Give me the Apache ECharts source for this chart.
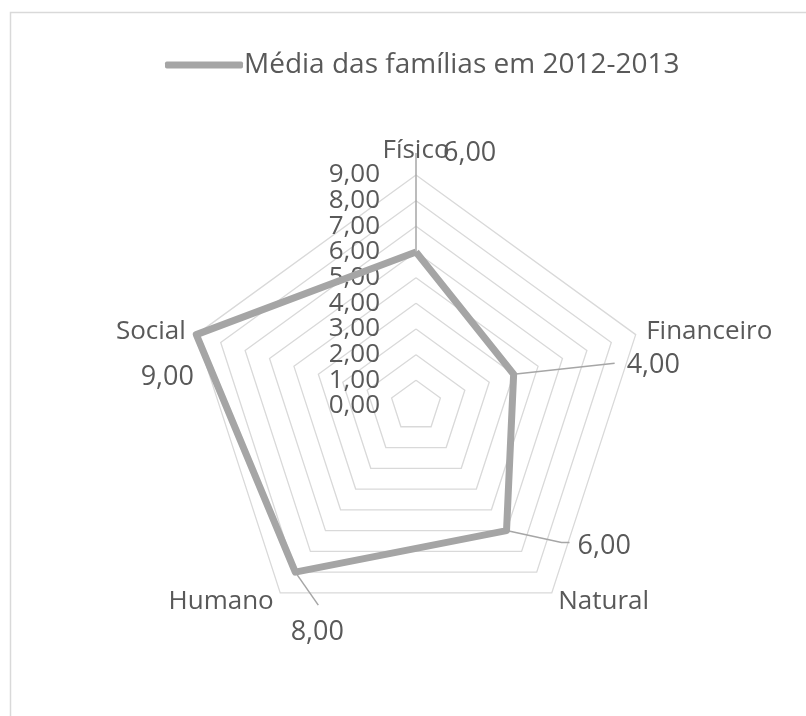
<!DOCTYPE html>
<html>
<head>
<meta charset="utf-8">
<script src="https://cdn.jsdelivr.net/npm/echarts@6/dist/echarts.min.js"></script>
<style>
html,body{margin:0;padding:0;background:#fff;}
#c{width:806px;height:716px;}
</style>
</head>
<body>
<div id="c"></div>
<script>
// ---- data ----
var seriesName = 'Média das famílias em 2012-2013';
var categories = ['Físico', 'Financeiro', 'Natural', 'Humano', 'Social'];
var values = [6, 4, 6, 8, 9];
var tickValues = [0, 1, 2, 3, 4, 5, 6, 7, 8, 9];
var axisMin = 0;
var axisMax = 9;
var axisSplit = 9;

// label placement relative to each vertex (dx, dy of text anchor, align) and leader lines
var labelPlace = [
  {dx: 27, dy: -99, align: 'left', leader: [[0, 0], [0, -99]]},
  {dx: 113, dy: -9, align: 'left', leader: [[0, 0], [101, -11]]},
  {dx: 71, dy: 16, align: 'left', leader: [[0, 0], [55, 12], [63, 12]]},
  {dx: 22, dy: 60, align: 'center', leader: [[0, 0], [23, 33]]},
  {dx: -29, dy: 43, align: 'center', leader: null}
];
var tickLabelMargin = 36;

var FONT = '"Open Sans", "Noto Sans", sans-serif';
var TXT = '#595959';
function fmt(v) { return Number(v).toFixed(2).replace('.', ','); }

// ECharts lays radar indicators out counter-clockwise; the reference goes clockwise,
// so the first category stays on top and the rest are taken in reverse order.
var order = categories.map(function (c, i) { return i === 0 ? 0 : categories.length - i; });

var chart = echarts.init(document.getElementById('c'), null, {renderer: 'canvas'});

var indicators = order.map(function (k) {
  return {name: categories[k], min: axisMin, max: axisMax};
});
var orderedValues = order.map(function (k) { return values[k]; });

chart.setOption({
  animation: false,
  legend: {
    top: 46, left: 160,
    data: [seriesName],
    icon: 'roundRect',
    itemWidth: 78, itemHeight: 7, itemGap: 10,
    textStyle: {color: TXT, fontSize: 28, fontFamily: FONT, padding: [0, 0, 0, -4]}
  },
  radar: {
    center: [416, 406],
    radius: 231,
    startAngle: 90,
    shape: 'polygon',
    splitNumber: axisSplit,
    indicator: indicators,
    nameGap: 11,
    axisName: {color: TXT, fontSize: 26, fontFamily: FONT},
    axisLine: {show: false},
    axisTick: {show: false},
    axisLabel: {show: false},
    splitLine: {lineStyle: {color: '#d9d9d9', width: 1.3}},
    splitArea: {show: false}
  },
  series: [{
    type: 'radar',
    name: seriesName,
    symbol: 'none',
    itemStyle: {color: '#a5a5a5'},
    lineStyle: {color: '#a5a5a5', width: 7},
    data: [{value: orderedValues, name: seriesName}]
  }]
});

// positions from the radar coordinate system
var cs = null;
try { cs = chart.getModel().getComponent('radar', 0).coordinateSystem; } catch (e) { cs = null; }
function toPoint(v, k) { return cs ? cs.dataToPoint(v, order.indexOf(k)) : null; }

var g = [];
// chart frame
g.push({type: 'rect', silent: true, shape: {x: 10.5, y: 12.5, width: 900, height: 800},
  style: {fill: 'none', stroke: '#d9d9d9', lineWidth: 1.5}});
if (cs) {
  // value-axis tick labels along the first (top) indicator
  tickValues.forEach(function (t) {
    var p = toPoint(t, 0);
    g.push({type: 'text', silent: true, x: p[0] - tickLabelMargin, y: p[1],
      style: {text: fmt(t), fill: TXT, font: '26px ' + FONT, align: 'right', verticalAlign: 'middle'}});
  });
  // data labels with leader lines
  values.forEach(function (v, i) {
    var p = toPoint(v, i), lp = labelPlace[i];
    if (lp.leader) {
      g.push({type: 'polyline', silent: true,
        shape: {points: lp.leader.map(function (q) { return [p[0] + q[0], p[1] + q[1]]; })},
        style: {stroke: '#a6a6a6', lineWidth: 1.5, fill: 'none'}});
    }
    g.push({type: 'text', silent: true, x: p[0] + lp.dx, y: p[1] + lp.dy,
      style: {text: fmt(v), fill: TXT, font: '27px ' + FONT, align: lp.align, verticalAlign: 'middle'}});
  });
}
chart.setOption({graphic: g});
</script>
</body>
</html>
